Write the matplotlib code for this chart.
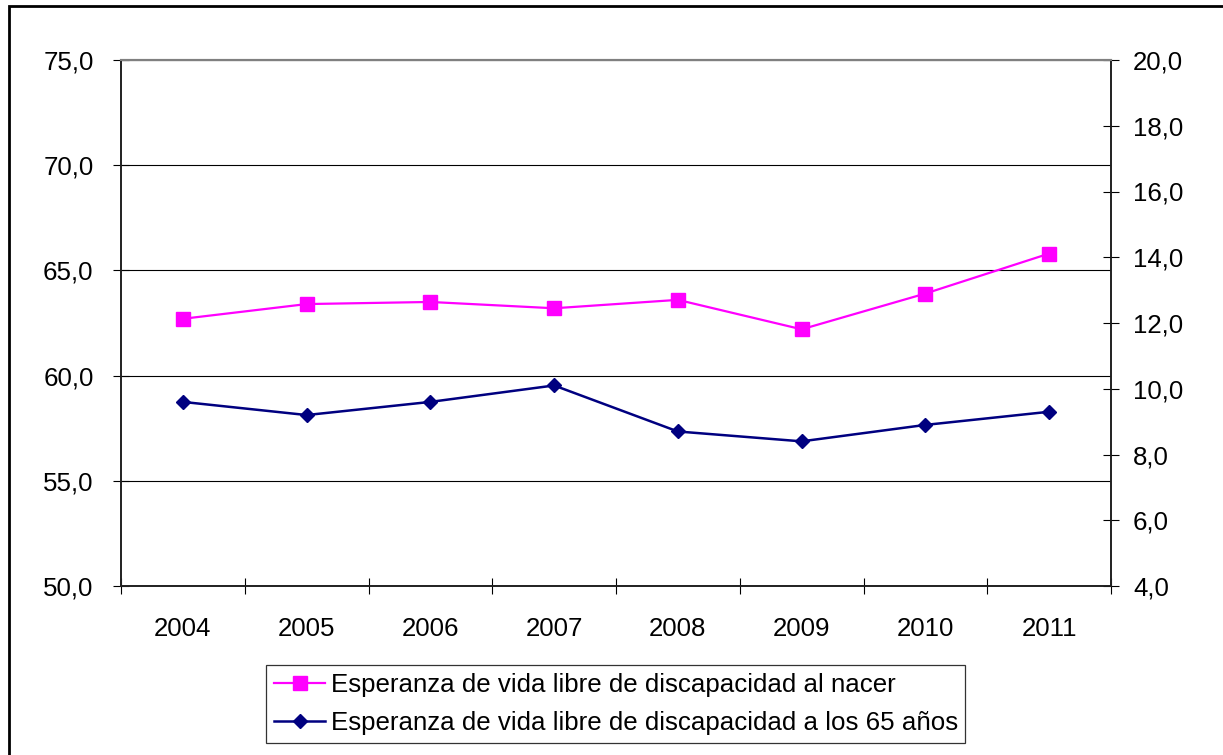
import matplotlib
matplotlib.use("Agg")
import matplotlib.pyplot as plt
from matplotlib.patches import Rectangle
from matplotlib.ticker import FuncFormatter, FixedLocator, MultipleLocator

years = ["2004", "2005", "2006", "2007", "2008", "2009", "2010", "2011"]
al_nacer = [62.7, 63.4, 63.5, 63.2, 63.6, 62.2, 63.9, 65.8]
a_65 = [9.6, 9.2, 9.6, 10.1, 8.7, 8.4, 8.9, 9.3]
label_nacer = "Esperanza de vida libre de discapacidad al nacer"
label_65 = "Esperanza de vida libre de discapacidad a los 65 años"

plt.rcParams['font.family'] = ['Liberation Sans', 'DejaVu Sans']
FS = 18.6

W, H = 1223, 755
fig = plt.figure(figsize=(W / 100, H / 100), dpi=100)
ax = fig.add_axes([121 / W, 1 - 586 / H, (1111 - 121) / W, (586 - 60) / H])
ax2 = ax.twinx()

x = list(range(len(years)))
l1, = ax.plot(x, al_nacer, color="#FF00FF", lw=1.6, marker="s", ms=10.5,
              markeredgecolor="#FF00FF", zorder=5)
l2, = ax2.plot(x, a_65, color="#000080", lw=1.8, marker="D", ms=7.6,
               markeredgecolor="#000080", zorder=5)

comma = FuncFormatter(lambda v, p: f"{v:.1f}".replace(".", ","))

ax.set_xlim(-0.5, len(years) - 0.5)
ax.set_ylim(50, 75)
ax.yaxis.set_major_locator(MultipleLocator(5))
ax.yaxis.set_major_formatter(comma)
ax.set_xticks(x)
ax.set_xticklabels(years)
ax.xaxis.set_minor_locator(FixedLocator([i - 0.5 for i in range(len(years) + 1)]))
ax.tick_params(axis="x", which="major", length=0, labelsize=FS, pad=22)
ax.tick_params(axis="x", which="minor", direction="inout", length=11.5, width=0.8)
ax.tick_params(axis="y", direction="inout", length=11.5, width=0.8, labelsize=FS, pad=14)
ax.grid(axis="y", color="black", lw=0.8)
ax.set_axisbelow(True)

ax2.set_ylim(4, 20)
ax2.yaxis.set_major_locator(MultipleLocator(2))
ax2.yaxis.set_major_formatter(comma)
ax2.tick_params(axis="y", direction="inout", length=11.5, width=0.8, labelsize=FS, pad=10)

for a in (ax, ax2):
    a.spines["top"].set_color("#808080")
    a.spines["top"].set_linewidth(1.5)
    for s in ("left", "right", "bottom"):
        a.spines[s].set_color("#202020")
        a.spines[s].set_linewidth(1.2)

leg = fig.legend([l1, l2], [label_nacer, label_65], loc="upper left",
                 bbox_to_anchor=(266 / W, 1 - 665 / H), fontsize=FS,
                 frameon=True, fancybox=False, shadow=False, edgecolor="black",
                 handlelength=2.0, handletextpad=0.2, borderpad=0.3,
                 labelspacing=0.55, borderaxespad=0)
leg.get_frame().set_linewidth(0.9)

fig.patches.append(Rectangle((9 / W, -0.1), 1.2, 1.1 - 6 / H, transform=fig.transFigure,
                             fill=False, edgecolor="black", lw=2))

fig.savefig("out.png", dpi=100)
